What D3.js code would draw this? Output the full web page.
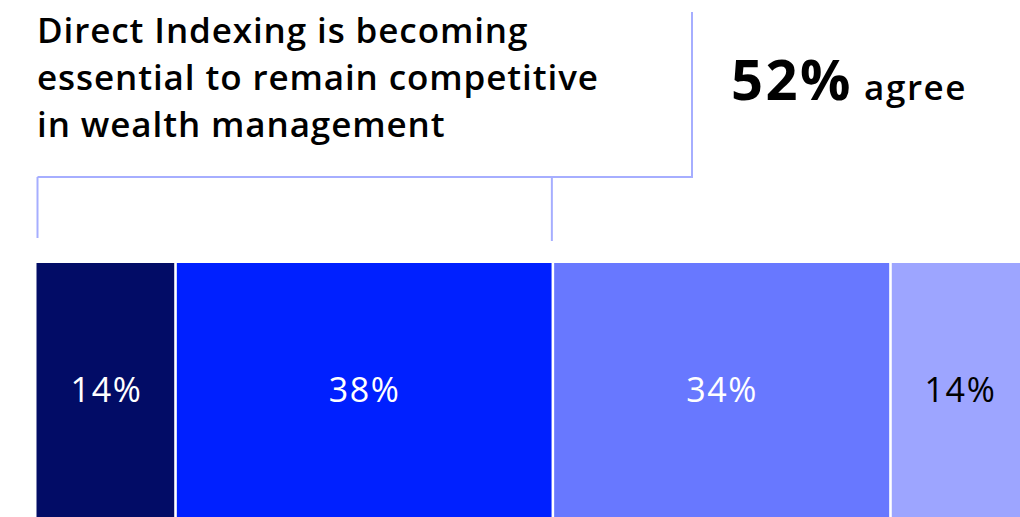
<!DOCTYPE html>
<html>
<head>
<meta charset="utf-8">
<script src="https://cdn.jsdelivr.net/npm/d3@7/dist/d3.min.js"></script>
<style>
  html, body { margin: 0; padding: 0; background: #ffffff; }
  svg { display: block; }
  text { font-family: "Open Sans", Lato, sans-serif; }
</style>
</head>
<body>
<svg id="chart" width="1020" height="517"></svg>
<script>
// Survey response shares, left to right
const categories = ["Strongly agree", "Agree", "Disagree", "Strongly disagree"];
const values = [14, 38, 34, 14];
const colors = ["#020c66", "#0020ff", "#6878ff", "#9da5ff"];
const labelColors = ["#ffffff", "#ffffff", "#ffffff", "#000000"];
const titleLines = [
  "Direct Indexing is becoming",
  "essential to remain competitive",
  "in wealth management"
];
const agreeCategories = ["Strongly agree", "Agree"];

const W = 1020, H = 517;
const svg = d3.select("#chart");

const x = d3.scaleLinear().domain([0, 100]).range([36.5, 1029.5]);
const y = d3.scaleBand().domain(["all"]).range([263, 522]).padding(0);

// stacked segments
let acc = 0;
const segs = values.map((v, i) => {
  const s = { key: categories[i], v, x0: acc, x1: acc + v, i };
  acc += v;
  return s;
});

const gap = 2.6;
const bar = svg.append("g");
bar.selectAll("rect").data(segs).join("rect")
  .attr("x", d => x(d.x0) + (d.i > 0 ? gap / 2 : 0))
  .attr("y", y("all"))
  .attr("width", d => x(d.x1) - x(d.x0) - (d.i > 0 ? gap : gap / 2))
  .attr("height", y.bandwidth())
  .attr("fill", d => colors[d.i]);

bar.selectAll("text").data(segs).join("text")
  .attr("x", d => (x(d.x0) + x(d.x1)) / 2 + 0.5)
  .attr("y", 402)
  .attr("text-anchor", "middle")
  .attr("font-size", 34)
  .attr("font-weight", 400)
  .attr("letter-spacing", 1.6)
  .attr("fill", d => labelColors[d.i])
  .text(d => d.v + "%");

// agree share and bracket
const agree = d3.sum(segs.filter(s => agreeCategories.includes(s.key)), s => s.v);
const lineColor = "#a6aeff";
const lw = 2;
const bracket = svg.append("g").attr("stroke", lineColor).attr("stroke-width", lw).attr("fill", "none");
const boxRight = 692;
bracket.append("path")
  .attr("d", `M${boxRight},12 V177 H${x(0) + 1}`);
bracket.append("path")
  .attr("d", `M${x(0) + 1},177 V238`);
bracket.append("path")
  .attr("d", `M${x(agree) - 1},177 V241`);

// title
const title = svg.append("text")
  .attr("x", 37)
  .attr("font-size", 35)
  .attr("font-weight", 600)
  .attr("letter-spacing", 0.9)
  .attr("fill", "#000");
title.selectAll("tspan").data(titleLines).join("tspan")
  .attr("x", 37)
  .attr("y", (d, i) => 43 + i * 47)
  .text(d => d);

// headline stat
const stat = svg.append("text")
  .attr("x", 731)
  .attr("y", 100)
  .attr("fill", "#000");
stat.append("tspan")
  .attr("font-size", 56)
  .attr("font-weight", 700)
  .attr("letter-spacing", 2.5)
  .text(agree + "%");
stat.append("tspan")
  .attr("dx", 11)
  .attr("font-size", 35)
  .attr("font-weight", 600)
  .attr("letter-spacing", 1.6)
  .text("agree");
</script>
</body>
</html>
